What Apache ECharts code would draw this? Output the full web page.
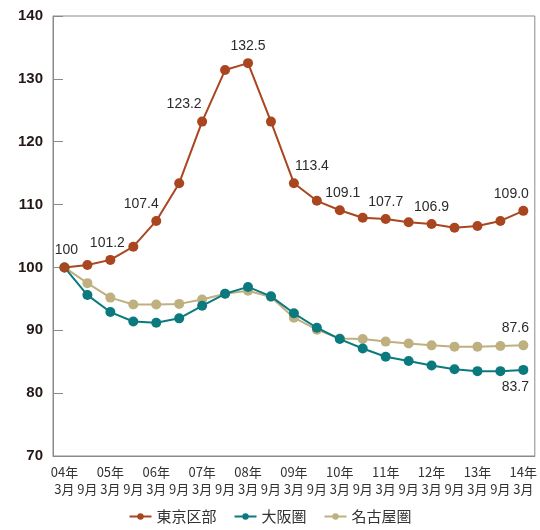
<!DOCTYPE html>
<html>
<head>
<meta charset="utf-8">
<script src="https://cdn.jsdelivr.net/npm/echarts@6/dist/echarts.min.js"></script>
<style>
  html, body { margin: 0; padding: 0; background: #fff; }
  #chart { width: 540px; height: 530px; }
</style>
</head>
<body>
<div id="chart"></div>
<script>
// Half-year points, March 2004 to March 2014 (index, 2004年3月 = 100)
const years = ['04', '04', '05', '05', '06', '06', '07', '07', '08', '08', '09',
               '09', '10', '10', '11', '11', '12', '12', '13', '13', '14'];
const months = ['3', '9', '3', '9', '3', '9', '3', '9', '3', '9', '3',
                '9', '3', '9', '3', '9', '3', '9', '3', '9', '3'];
const categories = years.map((y, i) => y + '年' + months[i] + '月');

const tokyo = [100, 100.4, 101.2, 103.3, 107.4, 113.4, 123.2, 131.4, 132.5, 123.2, 113.4,
               110.6, 109.1, 107.9, 107.7, 107.2, 106.9, 106.3, 106.6, 107.4, 109.0];
const osaka = [100, 95.6, 92.9, 91.4, 91.2, 91.9, 93.9, 95.8, 96.9, 95.4, 92.7,
               90.4, 88.6, 87.1, 85.8, 85.1, 84.4, 83.8, 83.5, 83.5, 83.7];
const nagoya = [100, 97.5, 95.2, 94.1, 94.1, 94.2, 94.9, 95.8, 96.3, 95.3, 92.0,
                90.1, 88.7, 88.6, 88.2, 87.9, 87.6, 87.4, 87.4, 87.5, 87.6];

const seriesNames = ['東京区部', '大阪圏', '名古屋圏'];
const yTicks = { min: 70, max: 140, interval: 10 };

// Which points carry a value label, and where the text sits relative to the point
const tokyoLabels = {
  0: { text: '100', pos: 'top', dx: 2 },
  2: { text: '101.2', pos: 'top', dx: -3 },
  4: { text: '107.4', pos: 'top', dx: -15 },
  6: { text: '123.2', pos: 'top', dx: -18 },
  8: { text: '132.5', pos: 'top', dx: 0 },
  10: { text: '113.4', pos: 'top', dx: 18 },
  12: { text: '109.1', pos: 'top', dx: 3 },
  14: { text: '107.7', pos: 'top', dx: 0 },
  16: { text: '106.9', pos: 'top', dx: 0 },
  20: { text: '109.0', pos: 'top', dx: -12 }
};
const osakaLabels = { 20: { text: '83.7', pos: 'bottom', dx: -8 } };
const nagoyaLabels = { 20: { text: '87.6', pos: 'top', dx: -8 } };

const labelFont = { fontFamily: 'Liberation Sans, Arial, sans-serif', fontSize: 14, color: '#2b2b2b' };

function withLabels(values, labels) {
  return values.map((v, i) => {
    const l = labels[i];
    if (!l) return v;
    return {
      value: v,
      label: Object.assign({
        show: true,
        position: l.pos,
        offset: [l.dx, 0],
        distance: 5,
        formatter: l.text
      }, labelFont)
    };
  });
}

function lineSeries(name, values, labels, color, z) {
  return {
    name: name,
    type: 'line',
    z: z,
    data: withLabels(values, labels),
    symbol: 'circle',
    symbolSize: 10,
    lineStyle: { width: 2, color: color },
    itemStyle: { color: color },
    label: { show: false },
    emphasis: { disabled: true },
    animation: false
  };
}

const chart = echarts.init(document.getElementById('chart'), null, { renderer: 'canvas' });
chart.setOption({
  animation: false,
  grid: {
    left: 53, right: 3, top: 16, bottom: 74,
    show: true, borderColor: '#8a8a8a', borderWidth: 1
  },
  legend: {
    data: seriesNames,
    bottom: 1,
    left: 'center',
    itemWidth: 22,
    itemHeight: 8,
    itemGap: 17,
    textStyle: { fontFamily: 'Noto Sans CJK JP', fontSize: 15, color: '#333' }
  },
  xAxis: {
    type: 'category',
    data: categories,
    boundaryGap: true,
    axisLine: { lineStyle: { color: '#8a8a8a', width: 1 } },
    axisTick: { inside: true, length: 9, lineStyle: { color: '#8a8a8a' } },
    axisLabel: {
      interval: 0,
      margin: 8,
      lineHeight: 17,
      fontFamily: 'Noto Sans CJK JP',
      fontSize: 13,
      color: '#333',
      formatter: (val, i) => {
        const top = months[i] === '3' ? years[i] + '年' : '';
        return top + '\n' + months[i] + '月';
      }
    },
    splitLine: { show: false }
  },
  yAxis: {
    type: 'value',
    min: yTicks.min,
    max: yTicks.max,
    interval: yTicks.interval,
    axisLine: { show: true, lineStyle: { color: '#8a8a8a', width: 1 } },
    axisTick: { show: true, inside: true, length: 10, lineStyle: { color: '#8a8a8a' } },
    axisLabel: {
      margin: 10,
      fontFamily: 'Liberation Sans, Arial, sans-serif',
      fontWeight: 'bold',
      fontSize: 15,
      color: '#231815'
    },
    splitLine: { show: false }
  },
  series: [
    lineSeries(seriesNames[2], nagoya, nagoyaLabels, '#bfb07f', 2),
    lineSeries(seriesNames[1], osaka, osakaLabels, '#0b7a7e', 3),
    lineSeries(seriesNames[0], tokyo, tokyoLabels, '#a9461f', 4)
  ]
});
</script>
</body>
</html>
